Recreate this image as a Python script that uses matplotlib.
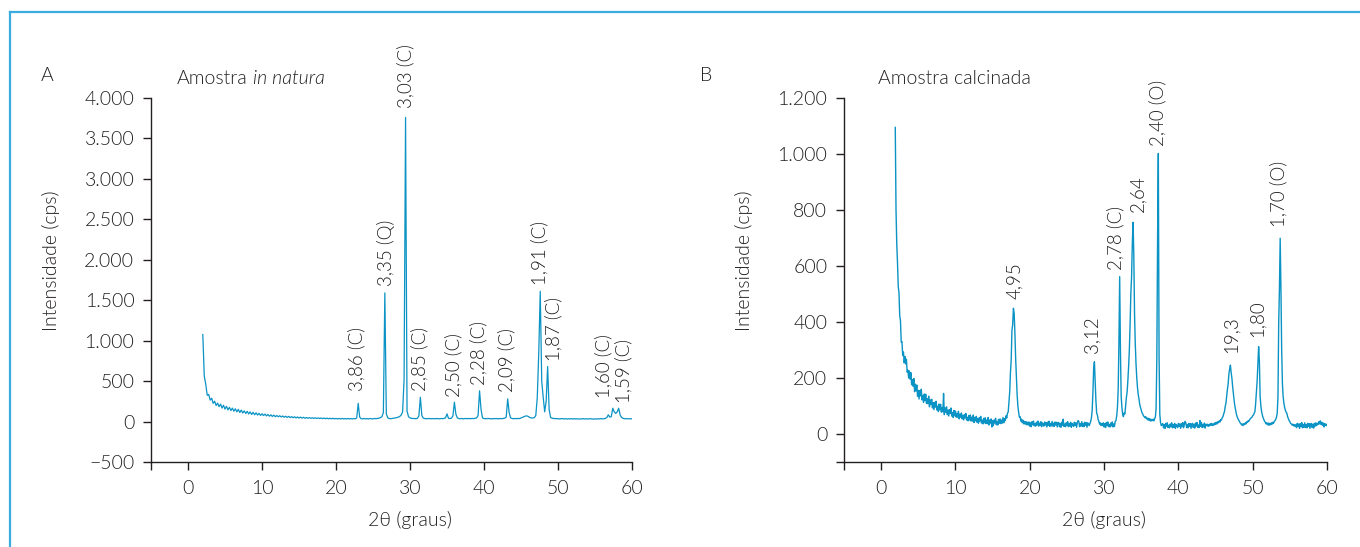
import numpy as np
import matplotlib
matplotlib.use("Agg")
import matplotlib.pyplot as plt
from matplotlib.lines import Line2D

# ---------------- data ----------------
# Panel A (amostra in natura): 2theta scan start/step and intensities (cps)
a_start, a_step = 2.0, 0.2
cps_a = [
    1075, 560, 460, 325, 335, 265, 288, 225, 252, 198,
    228, 184, 216, 166, 202, 154, 188, 144, 176, 136,
    166, 128, 158, 120, 150, 112, 142, 106, 132, 100,
    126, 94, 120, 88, 114, 84, 108, 80, 102, 76,
    96, 74, 92, 70, 88, 66, 83, 63, 80, 60,
    75, 59, 72, 56, 69, 53, 66, 51, 64, 49,
    61, 47, 59, 45, 57, 43, 55, 42, 53, 41,
    50, 41, 49, 40, 47, 39, 46, 38, 45, 37,
    44, 36, 43, 35, 42, 34, 41, 34, 40, 33,
    39, 33, 38, 32, 39, 33, 37, 32, 38, 33,
    37, 32, 38, 33, 45, 225, 55, 35, 33, 38,
    33, 37, 32, 38, 34, 33, 38, 35, 38, 42,
    48, 60, 110, 1590, 95, 45, 37, 35, 39, 42,
    45, 48, 55, 62, 80, 120, 520, 3760, 130, 60,
    45, 40, 37, 38, 35, 40, 70, 300, 75, 42,
    37, 35, 36, 38, 34, 35, 37, 34, 38, 35,
    34, 38, 35, 39, 45, 95, 40, 37, 42, 70,
    240, 90, 45, 37, 35, 38, 34, 37, 38, 35,
    38, 35, 39, 36, 40, 45, 75, 380, 150, 45,
    37, 35, 36, 38, 35, 33, 37, 34, 38, 35,
    34, 38, 35, 38, 42, 55, 280, 110, 45, 38,
    35, 38, 35, 39, 36, 45, 52, 60, 68, 70,
    62, 50, 45, 44, 48, 75, 300, 850, 1610, 500,
    300, 120, 250, 680, 150, 50, 42, 37, 38, 35,
    36, 32, 35, 37, 32, 36, 31, 35, 32, 36,
    31, 35, 32, 34, 33, 31, 34, 36, 31, 35,
    32, 33, 35, 32, 30, 34, 31, 35, 32, 36,
    33, 36, 38, 50, 83, 55, 60, 165, 120, 100,
    120, 165, 80, 50, 40, 35, 36, 33, 36, 33,
    35,
]

# Panel B (amostra calcinada)
b_start, b_step = 1.9, 0.1
cps_b = [
    1095, 800, 680, 612, 528, 504, 422, 405, 328, 330, 280, 293, 254, 277, 250, 267, 221, 228, 200, 225,
    196, 219, 176, 194, 171, 198, 151, 178, 154, 175, 135, 156, 125, 155, 136, 160, 122, 136, 113, 143,
    119, 142, 109, 126, 108, 135, 97, 122, 105, 124, 93, 112, 87, 113, 96, 117, 86, 99, 80, 107,
    86, 106, 78, 94, 79, 145, 69, 93, 78, 97, 69, 86, 64, 87, 74, 93, 64, 77, 59, 84,
    65, 82, 60, 73, 60, 81, 54, 71, 60, 75, 54, 67, 50, 69, 57, 73, 50, 60, 47, 66,
    50, 68, 46, 60, 46, 68, 41, 59, 47, 63, 42, 56, 38, 58, 46, 63, 39, 50, 36, 56,
    40, 58, 37, 50, 37, 59, 32, 50, 39, 54, 25, 48, 30, 50, 39, 56, 33, 45, 32, 52,
    38, 54, 37, 50, 39, 59, 40, 55, 48, 65, 57, 74, 79, 115, 150, 220, 265, 370, 390, 449,
    430, 360, 270, 205, 140, 100, 78, 60, 62, 46, 53, 40, 49, 36, 45, 35, 44, 33, 42, 32,
    43, 28, 40, 26, 44, 33, 46, 29, 37, 28, 42, 32, 46, 28, 39, 30, 44, 26, 40, 35,
    28, 43, 32, 41, 25, 42, 31, 46, 27, 38, 29, 45, 28, 39, 27, 43, 32, 42, 25, 41,
    41, 26, 38, 24, 42, 31, 53, 27, 35, 26, 40, 30, 44, 26, 37, 28, 42, 24, 38, 33,
    27, 42, 31, 40, 24, 41, 48, 45, 26, 37, 28, 44, 27, 38, 26, 42, 31, 41, 24, 40,
    36, 30, 38, 45, 58, 85, 150, 235, 258, 190, 120, 75, 68, 52, 45, 35, 40, 30, 37, 31,
    40, 25, 37, 23, 41, 30, 43, 26, 34, 25, 39, 29, 43, 25, 36, 27, 45, 48, 65, 95,
    160, 330, 562, 300, 135, 95, 70, 62, 75, 72, 100, 130, 150, 190, 240, 300, 390, 500, 560, 680,
    756, 640, 430, 320, 250, 200, 165, 140, 125, 105, 95, 85, 76, 72, 65, 62, 58, 62, 54, 57,
    50, 56, 48, 54, 46, 52, 48, 53, 47, 55, 60, 90, 270, 700, 1002, 280, 70, 40, 30, 34,
    37, 22, 34, 20, 38, 27, 40, 23, 31, 22, 36, 26, 40, 22, 33, 24, 38, 20, 34, 29,
    23, 38, 27, 36, 20, 37, 26, 41, 22, 33, 45, 40, 23, 34, 22, 38, 27, 37, 20, 36,
    38, 23, 35, 21, 39, 28, 41, 24, 32, 23, 48, 27, 41, 23, 34, 25, 39, 21, 35, 30,
    35, 27, 34, 29, 37, 31, 38, 30, 36, 32, 40, 34, 42, 36, 44, 40, 47, 43, 52, 50,
    58, 62, 72, 80, 98, 110, 135, 160, 180, 215, 232, 246, 220, 200, 170, 145, 120, 100, 85, 72,
    62, 56, 50, 46, 40, 38, 32, 36, 30, 37, 33, 40, 36, 44, 41, 48, 46, 52, 55, 58,
    60, 65, 68, 74, 80, 110, 150, 190, 250, 312, 260, 135, 100, 80, 68, 58, 52, 45, 42, 36,
    40, 33, 39, 31, 38, 33, 40, 35, 42, 38, 45, 48, 52, 60, 75, 130, 396, 520, 699, 521,
    300, 180, 133, 110, 95, 85, 78, 74, 62, 55, 48, 44, 38, 36, 32, 35, 29, 34, 27, 33,
    23, 38, 27, 36, 20, 37, 26, 41, 22, 33, 24, 40, 23, 34, 22, 38, 27, 37, 20, 36,
    38, 23, 35, 21, 38, 28, 40, 30, 38, 34, 44, 36, 47, 34, 42, 31, 39, 25, 37, 31,
    35, 30,
]

xticks = [-5, 0, 10, 20, 30, 40, 50, 60]
xtick_labels = ["", "0", "10", "20", "30", "40", "50", "60"]
yticks_a = [-500, 0, 500, 1000, 1500, 2000, 2500, 3000, 3500, 4000]
ytick_labels_a = ["\u2212500", "0", "500", "1.000", "1.500", "2.000",
                  "2.500", "3.000", "3.500", "4.000"]
yticks_b = [-100, 0, 200, 400, 600, 800, 1000, 1200]
ytick_labels_b = ["", "0", "200", "400", "600", "800", "1.000", "1.200"]

peak_labels_a = ["3,86 (C)", "3,35 (Q)", "3,03 (C)", "2,85 (C)", "2,50 (C)",
                 "2,28 (C)", "2,09 (C)", "1,91 (C)", "1,87 (C)", "1,60 (C)",
                 "1,59 (C)"]
peak_labels_b = ["4,95", "3,12", "2,78 (C)", "2,64", "2,40 (O)", "19,3",
                 "1,80", "1,70 (O)"]

# label anchor positions (2theta, bottom of text in cps)
label_pos_a = [(22.8, 375), (26.75, 1675), (29.35, 3880), (31.35, 375),
               (35.85, 305), (39.2, 458), (43.05, 365), (47.5, 1683),
               (49.35, 750), (56.1, 293), (58.9, 231)]
label_pos_b = [(17.9, 481), (28.35, 288), (31.5, 586), (34.5, 794),
               (37.25, 1030), (47.05, 288), (50.55, 348), (53.45, 740)]

# ---------------- style ----------------
W, H = 1360, 547
FONT = ["Lato", "DejaVu Sans"]
TXT = "#231f20"
LINE = "#0a93c4"
FRAME = "#39ade0"
FS = 14
plt.rcParams["font.family"] = FONT
plt.rcParams["font.weight"] = 300
plt.rcParams["text.color"] = TXT
plt.rcParams["axes.labelcolor"] = TXT
plt.rcParams["axes.labelweight"] = 300
plt.rcParams["xtick.color"] = TXT
plt.rcParams["ytick.color"] = TXT

fig = plt.figure(figsize=(W / 100, H / 100), dpi=100)
fig.patch.set_facecolor("white")

# frame (top and left edge)
fig.add_artist(Line2D([10 / W, 1.0], [1 - 12 / H, 1 - 12 / H],
                      transform=fig.transFigure, color=FRAME, lw=1.6))
fig.add_artist(Line2D([10 / W, 10 / W], [0.0, 1 - 12 / H],
                      transform=fig.transFigure, color=FRAME, lw=1.6))


def px_to_fig(x, y):
    return x / W, 1 - y / H


def make_axes(left_px, right_px):
    ax = fig.add_axes([left_px / W, 1 - 462 / H, (right_px - left_px) / W,
                       (462 - 98) / H])
    ax.set_facecolor("none")
    for s in ("top", "right"):
        ax.spines[s].set_visible(False)
    for s in ("left", "bottom"):
        ax.spines[s].set_color(TXT)
        ax.spines[s].set_linewidth(1.0)
    ax.tick_params(direction="out", length=6, width=1.0, labelsize=FS)
    ax.tick_params(axis="y", pad=6)
    ax.tick_params(axis="x", pad=7)
    ax.set_xlim(-5, 60)
    ax.set_xticks(xticks)
    ax.set_xticklabels(xtick_labels)
    return ax


def draw_panel(ax, start, step, cps, yticks, ylabels, labels, pos, lw):
    tt = start + step * np.arange(len(cps))
    ax.plot(tt, cps, color=LINE, lw=lw)
    ax.set_ylim(yticks[0], yticks[-1])
    ax.set_yticks(yticks)
    ax.set_yticklabels(ylabels)
    ax.set_xlabel("2\u03b8 (graus)", fontsize=FS)
    ax.xaxis.set_label_coords(35 / 65, -0.135)
    ax.set_ylabel("Intensidade (cps)", fontsize=FS)
    for txt, (x, y) in zip(labels, pos):
        ax.text(x, y, txt, rotation=90, ha="center", va="bottom",
                fontsize=13.5, color=TXT)


axA = make_axes(151, 632)
draw_panel(axA, a_start, a_step, cps_a, yticks_a, ytick_labels_a,
           peak_labels_a, label_pos_a, 0.9)
axA.yaxis.set_label_coords(-0.19, 0.552)

axB = make_axes(844, 1327)
draw_panel(axB, b_start, b_step, cps_b, yticks_b, ytick_labels_b,
           peak_labels_b, label_pos_b, 1.0)
axB.yaxis.set_label_coords(-0.188, 0.552)

# panel letters and titles
fig.text(*px_to_fig(47, 76), "A", fontsize=FS, ha="center", va="center")
fig.text(*px_to_fig(706, 76), "B", fontsize=FS, ha="center", va="center")

renderer = fig.canvas.get_renderer()
t1 = fig.text(*px_to_fig(177, 78), "Amostra", fontsize=FS, ha="left",
              va="center")
bb = t1.get_window_extent(renderer)
fig.text((bb.x1 + 5) / W, 1 - 78 / H, "in natura", fontsize=FS,
         style="italic", ha="left", va="center")
fig.text(*px_to_fig(878, 78), "Amostra calcinada", fontsize=FS, ha="left",
         va="center")

fig.savefig("out.png", dpi=100, facecolor="white")
